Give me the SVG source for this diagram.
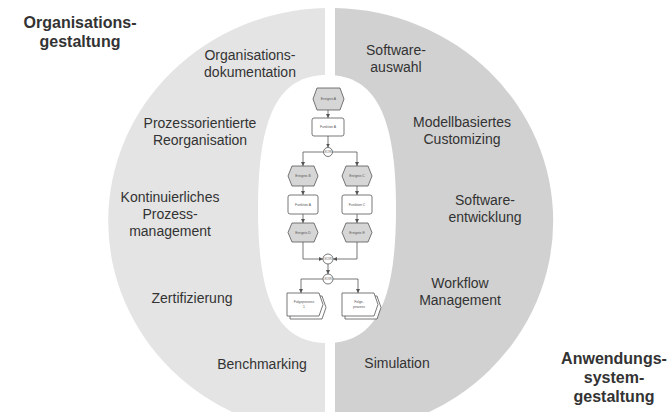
<svg xmlns="http://www.w3.org/2000/svg" width="667" height="412" viewBox="0 0 667 412">
<style>
.lbl{font-family:"Liberation Sans",Arial,sans-serif;font-size:14px;fill:#333;text-anchor:middle}
.ttl{font-family:"Liberation Sans",Arial,sans-serif;font-size:16px;font-weight:bold;fill:#333;text-anchor:middle}
.ev{fill:#d6d6d6;stroke:#555;stroke-width:0.8}
.fn{fill:#fff;stroke:#555;stroke-width:0.8}
.op{fill:#fff;stroke:#555;stroke-width:0.8}
.pi{fill:#fff;stroke:#555;stroke-width:0.8}
.tiny{font-family:"Liberation Sans",Arial,sans-serif;font-size:3.4px;fill:#555;text-anchor:middle}
.con{fill:none;stroke:#555;stroke-width:0.8;marker-end:url(#arr)}
</style>
<defs>
<marker id="arr" markerUnits="userSpaceOnUse" markerWidth="4" markerHeight="4" refX="4" refY="2" orient="auto">
<path d="M0,0 L4,2 L0,4 z" fill="#555"/>
</marker>
</defs>
<rect width="667" height="412" fill="#fff"/>
<g id="left-half">
<path d="M325,8.07 A222.5,213 0 0 0 325,433.93 Z" fill="#e4e4e4"/>
</g>
<g id="right-half">
<path d="M335,8.04 A222.5,213 0 0 1 335,433.96 Z" fill="#d1d1d1"/>
</g>
<g id="center">
<path d="M327,75 C375.3,75 396,115.2 396,209 C396,302.8 375.3,343 327,343 C278.7,343 258,302.8 258,209 C258,115.2 278.7,75 327,75 Z" fill="#fff"/>
</g>
<g id="title-org"><text class="ttl" x="80" y="28">Organisations-</text><text class="ttl" x="80" y="47">gestaltung</text></g>
<g id="title-anw"><text class="ttl" x="614" y="364">Anwendungs-</text><text class="ttl" x="614" y="383">system-</text><text class="ttl" x="614" y="402">gestaltung</text></g>
<g id="l-orgdok"><text class="lbl" x="250" y="60">Organisations-</text><text class="lbl" x="250" y="77">dokumentation</text></g>
<g id="l-reorg"><text class="lbl" x="200" y="128">Prozessorientierte</text><text class="lbl" x="200" y="145">Reorganisation</text></g>
<g id="l-kpm"><text class="lbl" x="170" y="202">Kontinuierliches</text><text class="lbl" x="170" y="219">Prozess-</text><text class="lbl" x="170" y="236">management</text></g>
<g id="l-zert"><text class="lbl" x="192" y="303">Zertifizierung</text></g>
<g id="l-bench"><text class="lbl" x="262" y="369">Benchmarking</text></g>
<g id="r-swaus"><text class="lbl" x="396" y="55">Software-</text><text class="lbl" x="396" y="72">auswahl</text></g>
<g id="r-custom"><text class="lbl" x="462" y="127">Modellbasiertes</text><text class="lbl" x="462" y="144">Customizing</text></g>
<g id="r-swent"><text class="lbl" x="485" y="205">Software-</text><text class="lbl" x="485" y="222">entwicklung</text></g>
<g id="r-wf"><text class="lbl" x="460" y="288">Workflow</text><text class="lbl" x="460" y="305">Management</text></g>
<g id="r-sim"><text class="lbl" x="397" y="368">Simulation</text></g>
<g id="connectors">
<path class="con" d="M328,110 V118"/>
<path class="con" d="M328,136 V147.5"/>
<path class="con" d="M323.5,152 H303 V166"/>
<path class="con" d="M332.5,152 H357 V166"/>
<path class="con" d="M303,186 V195"/>
<path class="con" d="M357,186 V195"/>
<path class="con" d="M303,214 V223"/>
<path class="con" d="M357,214 V223"/>
<path class="con" d="M303,242 V259 H323"/>
<path class="con" d="M357,242 V259 H333"/>
<path class="con" d="M328,264 V274"/>
<path class="con" d="M323,279 H301 V293"/>
<path class="con" d="M333,279 H358 V293"/>
</g>
<g id="ev-a"><polygon class="ev" points="317,88 340,88 344,99 340,110 317,110 313,99"/><text class="tiny" x="328.5" y="100">Ereignis A</text></g>
<g id="fn-a"><rect class="fn" x="312" y="118" width="32" height="18" rx="2"/><text class="tiny" x="328" y="128">Funktion A</text></g>
<g id="op-1"><circle class="op" cx="328" cy="152" r="4.5"/><text class="tiny" x="328" y="153.2" font-size="2.6">XOR</text></g>
<g id="ev-b"><polygon class="ev" points="292,166 314,166 318,176 314,186 292,186 288,176"/><text class="tiny" x="303" y="177">Ereignis B</text></g>
<g id="ev-c"><polygon class="ev" points="346,166 368,166 372,176 368,186 346,186 342,176"/><text class="tiny" x="357" y="177">Ereignis C</text></g>
<g id="fn-b"><rect class="fn" x="288" y="195" width="30" height="19" rx="2"/><text class="tiny" x="303" y="205.5">Funktion A</text></g>
<g id="fn-c"><rect class="fn" x="342" y="195" width="30" height="19" rx="2"/><text class="tiny" x="357" y="205.5">Funktion C</text></g>
<g id="ev-d"><polygon class="ev" points="292,223 314,223 318,232.5 314,242 292,242 288,232.5"/><text class="tiny" x="303" y="233.5">Ereignis D</text></g>
<g id="ev-e"><polygon class="ev" points="346,223 368,223 372,232.5 368,242 346,242 342,232.5"/><text class="tiny" x="357" y="233.5">Ereignis E</text></g>
<g id="op-2"><circle class="op" cx="328" cy="259" r="5"/><text class="tiny" x="328" y="260.2" font-size="2.6">XOR</text></g>
<g id="op-3"><circle class="op" cx="328" cy="279" r="5"/><text class="tiny" x="328" y="280.2" font-size="2.6">XOR</text></g>
<g id="pi-1"><path class="pi" d="M290,296 H322 L326,307.5 L322,319 H290 Z"/><path class="pi" d="M287,293 H319 L323,304.5 L319,316 H287 Z"/><text class="tiny" x="304" y="303">Folgeprozess</text><text class="tiny" x="304" y="307.5">1</text></g>
<g id="pi-2"><path class="pi" d="M345,296 H377 L381,307.5 L377,319 H345 Z"/><path class="pi" d="M342,293 H374 L378,304.5 L374,316 H342 Z"/><text class="tiny" x="359" y="303">Folge-</text><text class="tiny" x="359" y="307.5">prozess</text></g>
</svg>
